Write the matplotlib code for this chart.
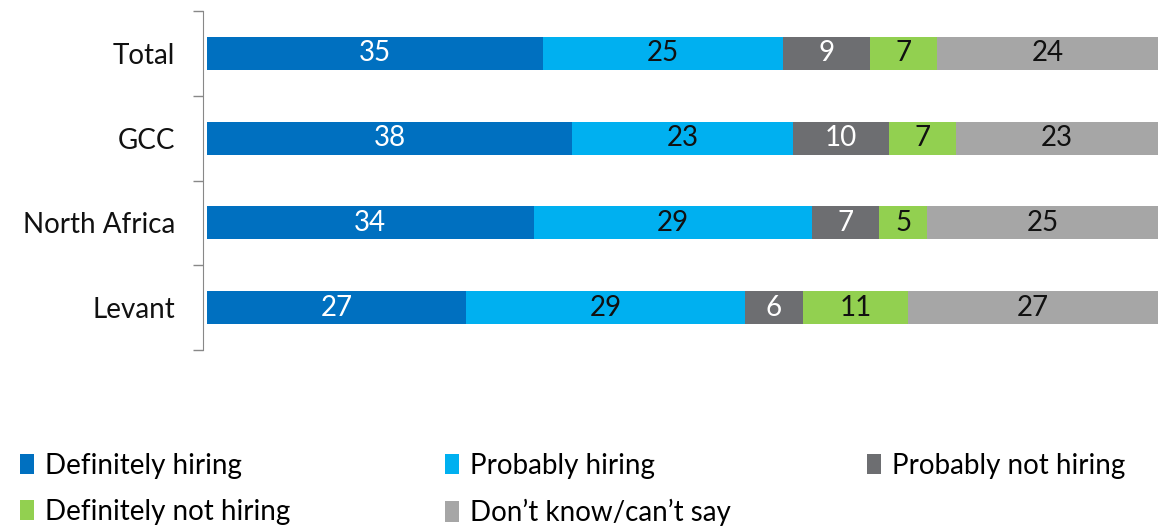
import matplotlib.pyplot as plt
import numpy as np

regions = ['Total', 'GCC', 'North Africa', 'Levant']
series = ['Definitely hiring', 'Probably hiring', 'Probably not hiring',
          'Definitely not hiring', "Don\u2019t know/can\u2019t say"]
definitely = [35, 38, 34, 27]
probably = [25, 23, 29, 29]
probably_not = [9, 10, 7, 6]
definitely_not = [7, 7, 5, 11]
dont_know = [24, 23, 25, 27]

colors = ['#0070C0', '#00B0F0', '#6D6E71', '#92D050', '#A6A6A6']
text_colors = ['white', '#111111', 'white', '#111111', '#111111']

plt.rcParams['font.family'] = ['Lato', 'DejaVu Sans']
fs = 20

fig = plt.figure(figsize=(11.58, 5.28), dpi=100)
ax = fig.add_axes([207 / 1158, 1 - 350 / 528, (1158 - 207) / 1158, 339 / 528])

y = np.arange(len(regions))
left = np.zeros(len(regions))
data = [definitely, probably, probably_not, definitely_not, dont_know]
handles = []
for vals, name, c, tc in zip(data, series, colors, text_colors):
    bars = ax.barh(y, vals, left=left, height=0.39, color=c, label=name)
    ax.bar_label(bars, labels=[str(v) for v in vals], label_type='center',
                 color=tc, fontsize=fs)
    handles.append(bars)
    left = left + np.array(vals)

ax.set_xlim(0, 99)
ax.set_ylim(3.5, -0.5)
ax.set_yticks(y)
ax.set_yticklabels(regions)
ax.set_yticks(np.arange(-0.5, 4, 1), minor=True)
ax.tick_params(axis='y', which='major', length=0, pad=20, labelsize=fs,
               labelcolor='#111111')
ax.tick_params(axis='y', which='minor', length=7, color='#888888', width=1)
ax.set_xticks([])
for s in ['top', 'right', 'bottom']:
    ax.spines[s].set_visible(False)
ax.spines['left'].set_color('#888888')
ax.spines['left'].set_position(('outward', 3))

# legend laid out row-wise, one legend per column
cols = [[0, 3], [1, 4], [2]]
col_x = [20 / 1158, 445 / 1158, 867 / 1158]
for idx, x0 in zip(cols, col_x):
    fig.legend(handles=[handles[i] for i in idx], labels=[series[i] for i in idx],
               loc='upper left', bbox_to_anchor=(x0, 1 - 453 / 528),
               frameon=False, fontsize=fs, handlelength=0.5, handleheight=0.75,
               handletextpad=0.4, labelspacing=0.72, borderpad=0,
               borderaxespad=0)

fig.savefig('out.png', dpi=100)
